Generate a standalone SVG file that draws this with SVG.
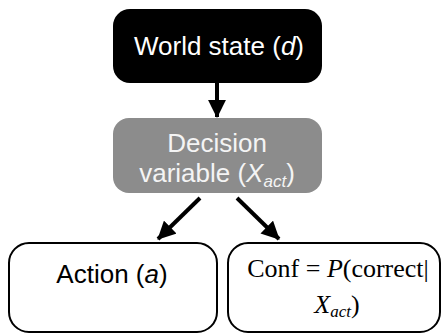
<svg xmlns="http://www.w3.org/2000/svg" width="441" height="334" viewBox="0 0 441 334">
  <style>
    .sans { font-family: "Liberation Sans", Arial, sans-serif; font-size: 26px; text-anchor: middle; }
    .serif { font-family: "Liberation Serif", "Times New Roman", serif; font-size: 26px; text-anchor: middle; }
    .edge { stroke: #000; stroke-width: 4; fill: none; marker-end: url(#head); }
    .outline { fill: #fff; stroke: #000; stroke-width: 2; }
  </style>
  <defs>
    <marker id="head" viewBox="0 0 10 10" refX="9.5" refY="5" markerWidth="4.5" markerHeight="4.5" orient="auto" markerUnits="strokeWidth">
      <path d="M0,0 L10,5 L0,10 z" fill="#000"/>
    </marker>
  </defs>
  <rect width="441" height="334" fill="#fff"/>

  <g id="world-state">
    <rect x="113" y="9" width="209" height="74" rx="17" fill="#000"/>
    <text class="sans" x="219" y="55" fill="#fff">World state (<tspan font-style="italic">d</tspan>)</text>
  </g>

  <g id="decision-variable">
    <rect x="113" y="118" width="209" height="75" rx="16" fill="#8c8c8c"/>
    <text class="sans" x="217" y="152" fill="#f4f4f4">Decision</text>
    <text class="sans" x="217" y="182" fill="#f4f4f4">variable (<tspan font-style="italic">X</tspan><tspan font-style="italic" font-size="17" dy="5">act</tspan><tspan dy="-5">)</tspan></text>
  </g>

  <g id="action">
    <rect class="outline" x="9" y="243" width="208" height="89" rx="20"/>
    <text class="sans" x="112" y="283">Action (<tspan font-style="italic">a</tspan>)</text>
  </g>

  <g id="confidence">
    <rect class="outline" x="228" y="243" width="212" height="89" rx="20"/>
    <text class="serif" x="338" y="277">Conf = <tspan font-style="italic">P</tspan>(correct|</text>
    <text class="serif" x="337" y="313"><tspan font-style="italic">X</tspan><tspan font-style="italic" font-size="17" dy="4">act</tspan><tspan dy="-4">)</tspan></text>
  </g>

  <g id="connectors">
    <line class="edge" x1="217" y1="83" x2="217" y2="117"/>
    <line class="edge" x1="200" y1="198" x2="158" y2="239"/>
    <line class="edge" x1="237" y1="198" x2="279" y2="239"/>
  </g>
</svg>
